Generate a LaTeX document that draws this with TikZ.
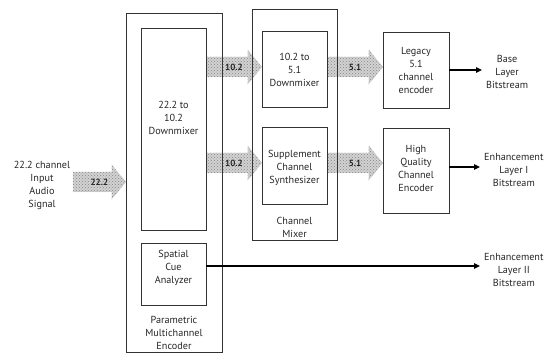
\documentclass[tikz,border=0pt]{standalone}
\usepackage{fontspec}
\setmainfont{PT Sans}
\usetikzlibrary{calc,patterns,arrows.meta}
\newcommand\fatarrow[4]{%
  \path[fatstyle] ($(#1)+(0,10)$) -- ($(#2)+(-14,10)$) -- ($(#2)+(-14,17)$) -- (#2)
    -- ($(#2)+(-14,-17)$) -- ($(#2)+(-14,-10)$) -- ($(#1)+(0,-10)$) -- cycle;
  \node[fatlbl] (#4) at ($(#1)!0.5!(#2)$) {#3};}
\begin{document}
\begin{tikzpicture}[x=1pt,y=1pt,
  blk/.style={inner sep=0pt},
  border/.style={draw=black!80, line width=0.5pt},
  lbl/.style={align=center, font=\fontsize{10.2}{13}\selectfont, inner sep=0pt, text=black!85},
  outarr/.style={-{Triangle[length=6pt,width=5.5pt]}, line width=1.1pt, shorten >=4pt},
  fatstyle/.style={preaction={fill=gray!35}, pattern=crosshatch dots, pattern color=gray!95, draw=gray!60, densely dotted},
  fatlbl/.style={font=\fontsize{9}{10}\selectfont\bfseries, text=black!85, inner sep=0pt}]
\useasboundingbox (0,0) rectangle (552,354);

% boxes (outlines drawn later, over the fat arrows)
\node[blk, minimum width=96, minimum height=339] (pme) at (174,171.5) {};
\node[blk, minimum width=65, minimum height=202] (dm) at (173.5,225) {};
\node[blk, minimum width=65, minimum height=62] (sp) at (173.5,80) {};
\node[blk, minimum width=85, minimum height=231] (cm) at (294.5,229.5) {};
\node[blk, minimum width=65, minimum height=76] (dm2) at (294.5,285) {};
\node[blk, minimum width=65, minimum height=77] (supp) at (294.5,188.5) {};
\node[blk, minimum width=66, minimum height=76] (leg) at (416,284) {};
\node[blk, minimum width=66, minimum height=85] (hq) at (416,183.5) {};

% texts
\node[lbl] (t-in) at (42,169) {22.2 channel\\Input\\Audio\\Signal};
\node[lbl] (t-dm) at (173.5,236) {22.2 to\\10.2\\Downmixer};
\node[lbl] (t-sp) at (173.5,86.5) {Spatial\\Cue\\Analyzer};
\node[lbl] (t-pme) at (174,21.5) {Parametric\\Multichannel\\Encoder};
\node[lbl] (t-cm) at (294.5,126.5) {Channel\\Mixer};
\node[lbl] (t-dm2) at (294.5,284) {10.2 to\\5.1\\Downmixer};
\node[lbl] (t-supp) at (294.5,186) {Supplement\\Channel\\Synthesizer};
\node[lbl] (t-leg) at (416,283.5) {Legacy\\5.1\\channel\\encoder};
\node[lbl] (t-hq) at (416,185.5) {High\\Quality\\Channel\\Encoder};
\node[lbl, anchor=west] (base) at (486,282) {Base\\Layer\\Bitstream};
\node[lbl, anchor=west] (enh1) at (484,184) {Enhancement\\Layer I\\Bitstream};
\node[lbl, anchor=west] (enh2) at (484,84) {Enhancement\\Layer II\\Bitstream};

% fat arrows
\coordinate (a1s) at (73,172);
\coordinate (a1e) at (pme.west |- a1s);
\coordinate (a2s) at (dm.east |- 0,287);
\coordinate (a2e) at (dm2.west |- 0,287);
\coordinate (a3s) at (dm.east |- 0,191);
\coordinate (a3e) at (supp.west |- 0,191);
\coordinate (a4s) at (dm2.east |- 0,287);
\coordinate (a4e) at (leg.west |- 0,287);
\coordinate (a5s) at (supp.east |- 0,191);
\coordinate (a5e) at (hq.west |- 0,191);
\fatarrow{a1s}{a1e}{22.2}{f1}
\fatarrow{a2s}{a2e}{10.2}{f2}
\fatarrow{a3s}{a3e}{10.2}{f3}
\fatarrow{a4s}{a4e}{5.1}{f4}
\fatarrow{a5s}{a5e}{5.1}{f5}

% box outlines
\foreach \n in {pme,dm,sp,cm,dm2,supp,leg,hq}{\draw[border] (\n.south west) rectangle (\n.north east);}

% output arrows
\draw[outarr] (leg.east) -- (leg.east -| base.west);
\draw[outarr] (hq.east |- 0,187) -- (enh1.west |- 0,187);
\draw[outarr] (sp.east |- 0,88) -- (enh2.west |- 0,88);
\end{tikzpicture}
\end{document}
